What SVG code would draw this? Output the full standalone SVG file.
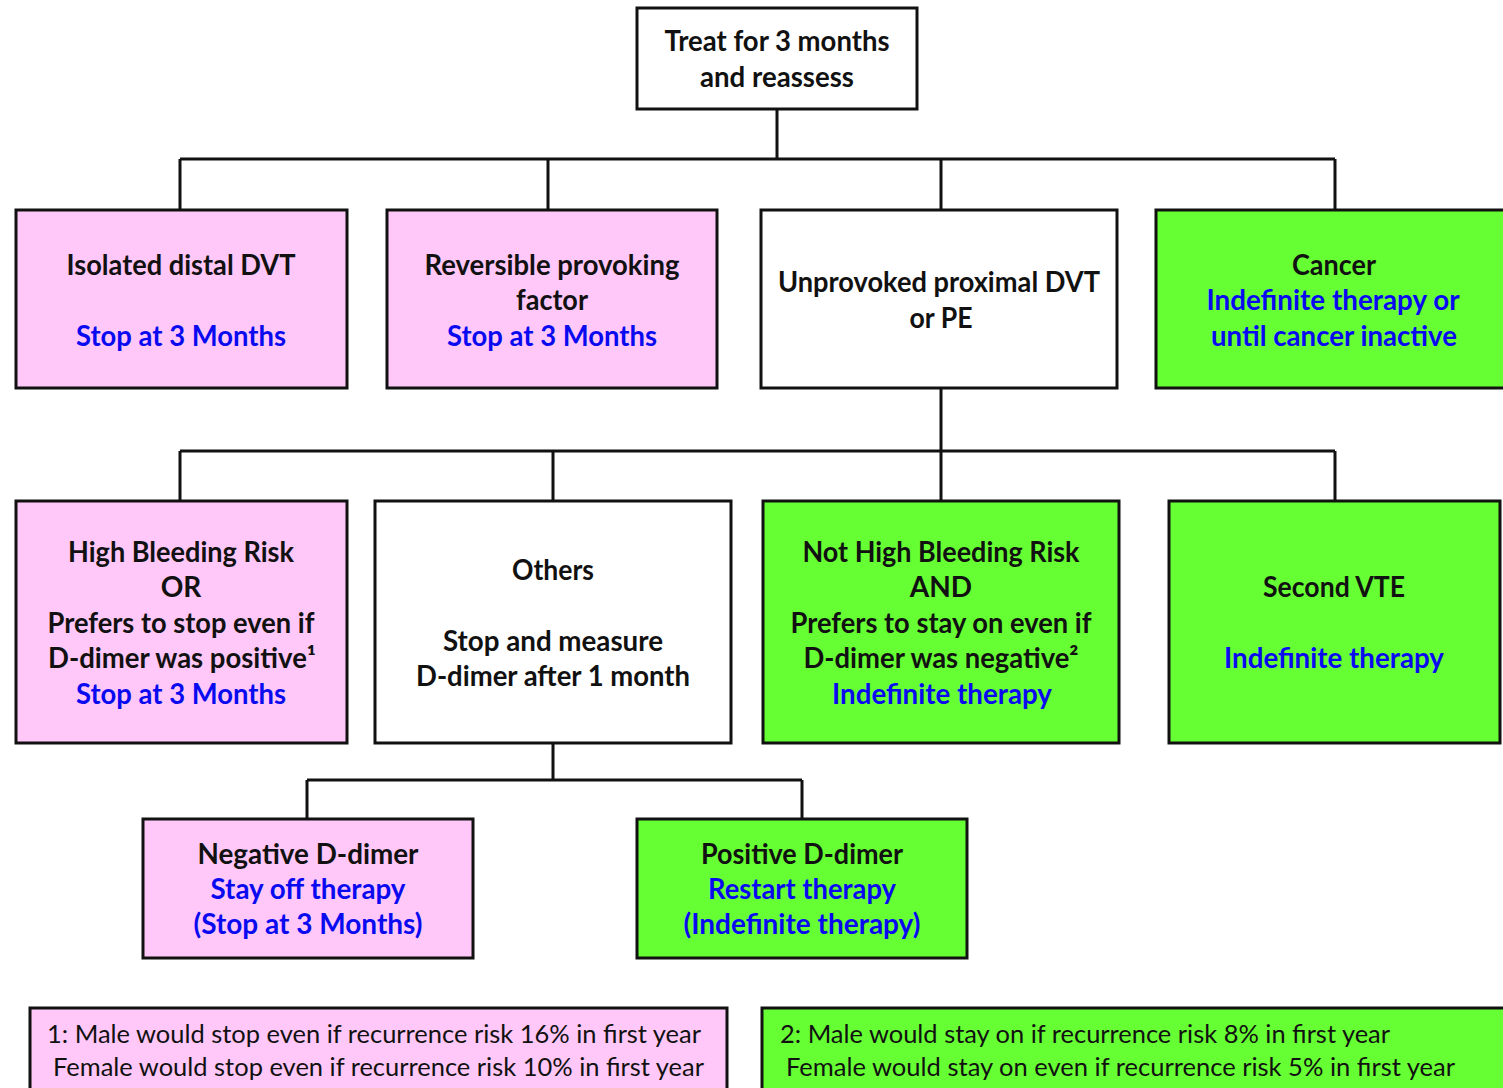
<svg xmlns="http://www.w3.org/2000/svg" width="1503" height="1088" viewBox="0 0 1503 1088">
<style>
.box{stroke:#111;stroke-width:3}
.pink{fill:#FFC8F8}
.green{fill:#66FF33}
.white{fill:#FFFFFF}
.t{font-family:Lato,"Liberation Sans",sans-serif;font-weight:bold;font-size:28px;fill:#111;text-anchor:middle}
.b{fill:#0A0AF0}
.f{font-family:Lato,"Liberation Sans",sans-serif;font-size:25px;fill:#111}
.conn{fill:none;stroke:#111;stroke-width:3}
</style>
<rect width="1503" height="1088" fill="#FFFFFF"/>
<g id="connectors" class="conn">
<path d="M777 109V159M180 159H1335M180 159V210M548 159V210M941 159V210M1335 159V210"/>
<path d="M941 388V451M180 451H1335M180 451V501M553 451V501M941 451V501M1335 451V501"/>
<path d="M553 743V780M307 780H802M307 780V819M802 780V819"/>
</g>
<g id="n-treat">
<rect class="box white" x="637" y="8" width="280" height="101"/>
<text class="t" x="777" y="51" textLength="225" lengthAdjust="spacingAndGlyphs">Treat for 3 months</text>
<text class="t" x="777" y="87" textLength="154" lengthAdjust="spacingAndGlyphs">and reassess</text>
</g>
<g id="n-distal">
<rect class="box pink" x="16" y="210" width="331" height="178"/>
<text class="t" x="181" y="275" textLength="229" lengthAdjust="spacingAndGlyphs">Isolated distal DVT</text>
<text class="t b" x="181" y="346" textLength="210" lengthAdjust="spacingAndGlyphs">Stop at 3 Months</text>
</g>
<g id="n-reversible">
<rect class="box pink" x="387" y="210" width="330" height="178"/>
<text class="t" x="552" y="275" textLength="255" lengthAdjust="spacingAndGlyphs">Reversible provoking</text>
<text class="t" x="552" y="310" textLength="72" lengthAdjust="spacingAndGlyphs">factor</text>
<text class="t b" x="552" y="346" textLength="210" lengthAdjust="spacingAndGlyphs">Stop at 3 Months</text>
</g>
<g id="n-unprovoked">
<rect class="box white" x="761" y="210" width="356" height="178"/>
<text class="t" x="939" y="292" textLength="322" lengthAdjust="spacingAndGlyphs">Unprovoked proximal DVT</text>
<text class="t" x="941" y="328" textLength="63" lengthAdjust="spacingAndGlyphs">or PE</text>
</g>
<g id="n-cancer">
<rect class="box green" x="1156" y="210" width="352" height="178"/>
<text class="t" x="1334" y="275" textLength="84" lengthAdjust="spacingAndGlyphs">Cancer</text>
<text class="t b" x="1333" y="310" textLength="253" lengthAdjust="spacingAndGlyphs">Indefinite therapy or</text>
<text class="t b" x="1334" y="346" textLength="246" lengthAdjust="spacingAndGlyphs">until cancer inactive</text>
</g>
<g id="n-highbleed">
<rect class="box pink" x="16" y="501" width="331" height="242"/>
<text class="t" x="181" y="562" textLength="226" lengthAdjust="spacingAndGlyphs">High Bleeding Risk</text>
<text class="t" x="181" y="597">OR</text>
<text class="t" x="181" y="633" textLength="267" lengthAdjust="spacingAndGlyphs">Prefers to stop even if</text>
<text class="t" x="182" y="668" textLength="268" lengthAdjust="spacingAndGlyphs">D-dimer was positive¹</text>
<text class="t b" x="181" y="704" textLength="210" lengthAdjust="spacingAndGlyphs">Stop at 3 Months</text>
</g>
<g id="n-others">
<rect class="box white" x="375" y="501" width="356" height="242"/>
<text class="t" x="553" y="580" textLength="82" lengthAdjust="spacingAndGlyphs">Others</text>
<text class="t" x="553" y="651" textLength="220" lengthAdjust="spacingAndGlyphs">Stop and measure</text>
<text class="t" x="553" y="686" textLength="274" lengthAdjust="spacingAndGlyphs">D-dimer after 1 month</text>
</g>
<g id="n-nothighbleed">
<rect class="box green" x="763" y="501" width="356" height="242"/>
<text class="t" x="941" y="562" textLength="277" lengthAdjust="spacingAndGlyphs">Not High Bleeding Risk</text>
<text class="t" x="941" y="597">AND</text>
<text class="t" x="941" y="633" textLength="301" lengthAdjust="spacingAndGlyphs">Prefers to stay on even if</text>
<text class="t" x="941" y="668" textLength="275" lengthAdjust="spacingAndGlyphs">D-dimer was negative²</text>
<text class="t b" x="942" y="704" textLength="220" lengthAdjust="spacingAndGlyphs">Indefinite therapy</text>
</g>
<g id="n-secondvte">
<rect class="box green" x="1169" y="501" width="331" height="242"/>
<text class="t" x="1334" y="597" textLength="142" lengthAdjust="spacingAndGlyphs">Second VTE</text>
<text class="t b" x="1334" y="668" textLength="220" lengthAdjust="spacingAndGlyphs">Indefinite therapy</text>
</g>
<g id="n-negative">
<rect class="box pink" x="143" y="819" width="330" height="139"/>
<text class="t" x="308" y="864" textLength="221" lengthAdjust="spacingAndGlyphs">Negative  D-dimer</text>
<text class="t b" x="308" y="899" textLength="195" lengthAdjust="spacingAndGlyphs">Stay off therapy</text>
<text class="t b" x="308" y="934" textLength="229" lengthAdjust="spacingAndGlyphs">(Stop at 3 Months)</text>
</g>
<g id="n-positive">
<rect class="box green" x="637" y="819" width="330" height="139"/>
<text class="t" x="802" y="864" textLength="202" lengthAdjust="spacingAndGlyphs">Positive D-dimer</text>
<text class="t b" x="802" y="899" textLength="188" lengthAdjust="spacingAndGlyphs">Restart therapy</text>
<text class="t b" x="802" y="934" textLength="237" lengthAdjust="spacingAndGlyphs">(Indefinite therapy)</text>
</g>
<g id="note1">
<rect class="box pink" x="30" y="1008" width="697" height="90"/>
<text class="f" x="47" y="1043" textLength="654" lengthAdjust="spacingAndGlyphs">1: Male would stop even if recurrence risk 16% in first year</text>
<text class="f" x="53" y="1076" textLength="651" lengthAdjust="spacingAndGlyphs">Female would stop even if recurrence risk 10% in first year</text>
</g>
<g id="note2">
<rect class="box green" x="762" y="1008" width="750" height="90"/>
<text class="f" x="780" y="1043" textLength="610" lengthAdjust="spacingAndGlyphs">2: Male would stay on if recurrence risk 8% in first year</text>
<text class="f" x="786" y="1076" textLength="669" lengthAdjust="spacingAndGlyphs">Female would stay on even if recurrence risk 5% in first year</text>
</g>
</svg>
